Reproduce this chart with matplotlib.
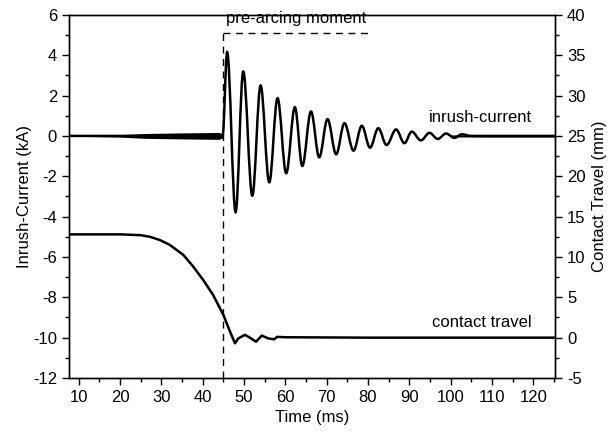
import matplotlib
matplotlib.use("Agg")
import matplotlib.pyplot as plt
import numpy as np
from matplotlib.path import Path
from matplotlib.patches import PathPatch
from matplotlib.ticker import MultipleLocator

plt.rcParams['font.family'] = ['Liberation Sans', 'DejaVu Sans']
plt.rcParams['axes.unicode_minus'] = False

# inrush current: extrema of the damped oscillation (ms, kA)
cur_t = [7.6, 44.8, 45.9, 47.95, 49.8, 52.0, 54.0, 56.1, 58.1, 60.2, 62.3, 64.1,
         66.2, 68.2, 70.2, 72.3, 74.3, 76.5, 78.5, 80.5, 82.5, 84.5, 86.8, 88.8,
         90.6, 92.8, 94.9, 96.9, 98.9, 100.9, 102.7, 105.0, 125.3]
cur_v = [0.0, 0.0, 4.15, -3.78, 3.19, -2.96, 2.50, -2.30, 1.87, -1.85, 1.42, -1.49,
         1.21, -1.06, 0.83, -0.91, 0.63, -0.73, 0.50, -0.58, 0.38, -0.45, 0.32, -0.36,
         0.21, -0.22, 0.15, -0.15, 0.12, -0.10, 0.08, 0.0, 0.0]

# noise band half-width on the current trace (ms, kA)
noise_t = [7.6, 12, 20, 26, 35, 44, 44.8]
noise_w = [0.01, 0.03, 0.06, 0.12, 0.15, 0.17, 0.10]
tail_t = [100, 110, 125.3]
tail_w = [0.05, 0.06, 0.06]

# contact travel (ms, mm)
trav_t = [7.6, 20, 25, 27.2, 29.6, 32.0, 35.3, 37.7, 40.1, 42.5, 45.0, 46.6, 47.8,
          48.6, 50.2, 51.4, 52.9, 54.3, 55.9, 57.3, 58.0, 60.0, 80.0, 100.0, 125.3]
trav_v = [12.8, 12.8, 12.7, 12.5, 12.1, 11.5, 10.25, 8.8, 7.15, 5.3, 2.8, 0.75, -0.7,
          -0.1, 0.35, 0.0, -0.5, 0.25, -0.1, -0.2, 0.1, 0.05, 0.0, 0.0, 0.0]

pre_arc = 45.0
marker_end = 80.0
marker_level = 5.1

fig = plt.figure(figsize=(6.1, 4.37), dpi=100)
ax = fig.add_axes([0.113, 0.135, 0.797, 0.831])
ax2 = ax.twinx()

# current trace drawn as smooth bezier segments between extrema
verts = [(cur_t[0], cur_v[0])]
codes = [Path.MOVETO]
for i in range(1, len(cur_t)):
    t0, v0 = cur_t[i - 1], cur_v[i - 1]
    t1, v1 = cur_t[i], cur_v[i]
    dt = t1 - t0
    verts += [(t0 + 0.36 * dt, v0), (t1 - 0.36 * dt, v1), (t1, v1)]
    codes += [Path.CURVE4] * 3
ax.add_patch(PathPatch(Path(verts, codes), fill=False, lw=1.8, color='black'))
ax.fill_between(noise_t, -np.array(noise_w), noise_w, color='black', lw=0)
ax.fill_between(tail_t, -np.array(tail_w), tail_w, color='black', lw=0)

ax2.plot(trav_t, trav_v, color='black', lw=1.8)

# pre-arcing marker
ax.plot([pre_arc, pre_arc], [-12, marker_level], ls=(0, (5, 4)), color='black', lw=1)
ax.plot([pre_arc, marker_end], [marker_level, marker_level], ls=(0, (5, 4)), color='black', lw=1)
ax.text(62.6, 5.8, 'pre-arcing moment', ha='center', va='center', fontsize=12)
ax.text(107.3, 0.9, 'inrush-current', ha='center', va='center', fontsize=12)
ax.text(107.6, -9.25, 'contact travel', ha='center', va='center', fontsize=12)

ax.set_xlim(7.6, 125.3)
ax.set_ylim(-12, 6)
ax2.set_ylim(-5, 40)
ax.xaxis.set_major_locator(MultipleLocator(10))
ax.xaxis.set_minor_locator(MultipleLocator(5))
ax.yaxis.set_major_locator(MultipleLocator(2))
ax.yaxis.set_minor_locator(MultipleLocator(1))
ax2.yaxis.set_major_locator(MultipleLocator(5))
ax2.yaxis.set_minor_locator(MultipleLocator(2.5))

for a in (ax, ax2):
    a.tick_params(which='major', length=5, width=1, labelsize=12)
    a.tick_params(which='minor', length=3, width=1)
    for s in a.spines.values():
        s.set_linewidth(1)

ax.set_xlabel('Time (ms)', fontsize=12)
ax.set_ylabel('Inrush-Current (kA)', fontsize=12, labelpad=1)
ax2.set_ylabel('Contact Travel (mm)', fontsize=12, labelpad=5)

fig.savefig('out.png', dpi=100)
